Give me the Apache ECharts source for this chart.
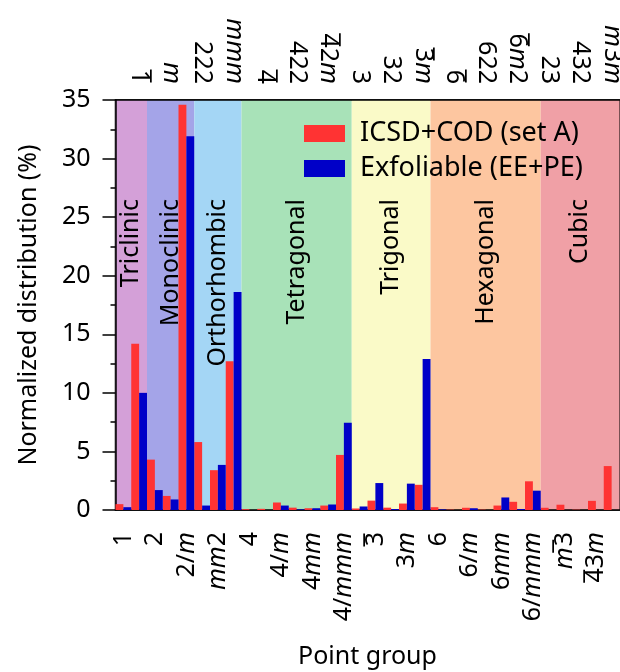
<!DOCTYPE html>
<html>
<head>
<meta charset="utf-8">
<script src="https://cdn.jsdelivr.net/npm/echarts@6/dist/echarts.min.js"></script>
<style>
  html, body { margin: 0; padding: 0; background: #fff; }
  #chart { width: 620px; height: 672px; }
</style>
</head>
<body>
<div id="chart"></div>
<script>
// 32 crystallographic point groups (the bar is U+0304 combining macron)
const pointGroups = ['1', '1\u0304', '2', 'm', '2/m', '222', 'mm2', 'mmm',
  '4', '4\u0304', '4/m', '422', '4mm', '4\u03042m', '4/mmm',
  '3', '3\u0304', '32', '3m', '3\u0304m',
  '6', '6\u0304', '6/m', '622', '6mm', '6\u0304m2', '6/mmm',
  '23', 'm3\u0304', '432', '4\u03043m', 'm3\u0304m']

// Normalized distribution (%)
const setA = [0.5, 14.2, 4.3, 1.2, 34.6, 5.8, 3.4, 12.7,
  0.07, 0.1, 0.64, 0.2, 0.15, 0.38, 4.7,
  0.13, 0.8, 0.2, 0.55, 2.15,
  0.24, 0.03, 0.19, 0.03, 0.38, 0.7, 2.45,
  0.19, 0.45, 0.03, 0.78, 3.75]
const exfoliable = [0.24, 10.0, 1.7, 0.9, 31.9, 0.38, 3.85, 18.6,
  0, 0, 0.38, 0.05, 0.15, 0.47, 7.45,
  0.3, 2.3, 0.08, 2.25, 12.9,
  0.05, 0, 0.15, 0, 1.07, 0.08, 1.65,
  0, 0, 0, 0, 0]

// crystal systems: first / last point group index
const systems = ['Triclinic', 'Monoclinic', 'Orthorhombic', 'Tetragonal', 'Trigonal', 'Hexagonal', 'Cubic']
const systemStart = [0, 2, 5, 8, 15, 20, 27]
const systemEnd = [1, 4, 7, 14, 19, 26, 31]
const systemColors = ['#d4a0d8', '#a4a4e8', '#a4d6f5', '#a8e2b8', '#fafac8', '#fdc6a0', '#f0a0a6']

const yTicks = [0, 5, 10, 15, 20, 25, 30, 35]

const FONT = '"Noto Sans", sans-serif'
const FS = 25

// italic m; barred digit = overline glyph in a zero-width token laid over the digit
const fmt = (s) => s.split(/(m+|\d\u0304)/).filter(p => p).map(p => {
  if (p[0] === 'm') return `{i|${p}}`
  if (p.length === 2 && p[1] === '\u0304') return `{o|\u203e}{n|${p[0]}}`
  return `{n|${p}}`
}).join('')
const rich = {
  n: { fontFamily: FONT, fontSize: FS, color: '#000' },
  i: { fontFamily: FONT, fontSize: FS, fontStyle: 'italic', color: '#000' },
  o: { fontFamily: '"DejaVu Sans"', fontSize: FS, color: '#000', width: 0, align: 'left', padding: [0, 0, 0, 1] },
}
const even = (i) => i % 2 === 0
const odd = (i) => i % 2 === 1

const line = { show: true, lineStyle: { color: '#000', width: 1.5 } }

const chart = echarts.init(document.getElementById('chart'))
chart.setOption({
  animation: false,
  textStyle: { fontFamily: FONT },
  grid: {
    left: 115.5, right: 0.5, top: 100, bottom: 162,
    outerBoundsMode: 'none', containLabel: false,
    show: true, borderColor: '#000', borderWidth: 1.5,
  },
  legend: {
    orient: 'vertical',
    left: 304,
    top: 120,
    padding: 0,
    itemWidth: 41,
    itemHeight: 17,
    itemGap: 8,
    icon: 'rect',
    textStyle: { fontSize: 27, color: '#000', padding: [0, 0, 0, 10] },
    data: ['ICSD+COD (set A)', 'Exfoliable (EE+PE)'],
  },
  xAxis: [
    {
      type: 'category', position: 'bottom', data: pointGroups,
      axisLine: line,
      axisTick: { alignWithLabel: true, interval: even, length: 13, lineStyle: { color: '#000', width: 1.5 } },
      axisLabel: { interval: even, rotate: 90, margin: 22, formatter: fmt, rich },
      name: 'Point group', nameLocation: 'middle', nameGap: 134,
      nameTextStyle: { fontSize: FS, color: '#000' },
    },
    {
      type: 'category', position: 'bottom', data: pointGroups,
      axisLine: { show: false },
      axisTick: { alignWithLabel: true, interval: odd, length: 5, lineStyle: { color: '#000', width: 1.5 } },
      axisLabel: { show: false },
    },
    {
      type: 'category', position: 'top', data: pointGroups,
      axisLine: line,
      axisTick: { alignWithLabel: true, interval: odd, length: 13, lineStyle: { color: '#000', width: 1.5 } },
      axisLabel: { interval: odd, rotate: 90, margin: 16, formatter: fmt, rich },
    },
    {
      type: 'category', position: 'top', data: pointGroups,
      axisLine: { show: false },
      axisTick: { alignWithLabel: true, interval: even, length: 5, lineStyle: { color: '#000', width: 1.5 } },
      axisLabel: { show: false },
    },
  ],
  yAxis: [
    {
      type: 'value', min: yTicks[0], max: yTicks[yTicks.length - 1], interval: 5,
      axisLine: line,
      axisTick: { show: true, length: 13, lineStyle: { color: '#000', width: 1.5 } },
      minorTick: { show: true, splitNumber: 2, length: 5, lineStyle: { color: '#000', width: 1.5 } },
      splitLine: { show: false },
      axisLabel: { fontSize: FS, color: '#000', margin: 25 },
      name: 'Normalized distribution (%)', nameLocation: 'middle', nameGap: 74,
      nameTextStyle: { fontSize: FS, color: '#000' },
    },
  ],
  series: [
    {
      type: 'custom',
      xAxisIndex: 0,
      z: 0,
      silent: true,
      encode: { x: [0, 1] },
      data: systems.map((s, i) => [systemStart[i], systemEnd[i]]),
      renderItem(params, api) {
        const i = params.dataIndex
        const a = api.coord([api.value(0), yTicks[0]])
        const b = api.coord([api.value(1), yTicks[yTicks.length - 1]])
        const w = api.size([1, 0])[0]
        const x0 = a[0] - w / 2
        const x1 = b[0] + w / 2
        return {
          type: 'group',
          children: [
            { type: 'rect', shape: { x: x0, y: b[1], width: x1 - x0, height: a[1] - b[1] }, style: { fill: systemColors[i] } },
            {
              type: 'text', x: (x0 + x1) / 2, y: b[1] + 99, rotation: Math.PI / 2, z2: 10,
              style: { text: systems[i], fill: '#000', font: `${FS}px ${FONT}`, align: 'right', verticalAlign: 'middle' },
            },
          ],
        }
      },
    },
    {
      name: 'ICSD+COD (set A)', type: 'bar', xAxisIndex: 0, z: 3,
      barGap: '0%', barCategoryGap: '0%',
      itemStyle: { color: '#ff3333' },
      data: setA,
    },
    {
      name: 'Exfoliable (EE+PE)', type: 'bar', xAxisIndex: 0, z: 3,
      barGap: '0%', barCategoryGap: '0%',
      itemStyle: { color: '#0000c8' },
      data: exfoliable,
    },
  ],
})
</script>
</body>
</html>
